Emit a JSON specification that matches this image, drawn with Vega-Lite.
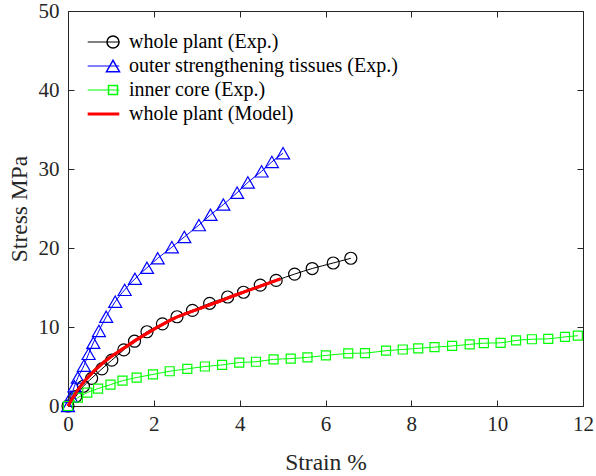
{
  "$schema": "https://vega.github.io/schema/vega-lite/v6.json",
  "width": 515,
  "height": 395,
  "autosize": {"type": "none"},
  "padding": {"left": 68, "top": 11, "right": 13, "bottom": 70},
  "background": "white",
  "config": {
    "view": {"stroke": null},
    "font": "Liberation Serif",
    "axis": {"grid": false, "domainColor": "#262626", "tickColor": "#262626", "labelColor": "#262626", "titleColor": "#262626", "labelFont": "Liberation Serif", "titleFont": "Liberation Serif", "labelFontSize": 21, "titleFontSize": 23.5, "titleFontWeight": "normal", "labelFlush": false, "labelOverlap": false, "tickSize": -6, "domainWidth": 1, "tickWidth": 1},
    "legend": {"labelFont": "Liberation Serif", "labelFontSize": 20, "labelColor": "#000000", "labelLimit": 400}
  },
  "data": {"values": [
    {"series": "whole plant (Exp.)", "strain": 0, "stress": 0},
    {"series": "whole plant (Exp.)", "strain": 0.18, "stress": 1.2},
    {"series": "whole plant (Exp.)", "strain": 0.36, "stress": 2.5},
    {"series": "whole plant (Exp.)", "strain": 0.55, "stress": 3.5},
    {"series": "whole plant (Exp.)", "strain": 0.79, "stress": 4.7},
    {"series": "whole plant (Exp.)", "strain": 1.02, "stress": 5.8},
    {"series": "whole plant (Exp.)", "strain": 1.30, "stress": 7.1},
    {"series": "whole plant (Exp.)", "strain": 1.55, "stress": 8.2},
    {"series": "whole plant (Exp.)", "strain": 1.84, "stress": 9.4},
    {"series": "whole plant (Exp.)", "strain": 2.20, "stress": 10.4},
    {"series": "whole plant (Exp.)", "strain": 2.54, "stress": 11.3},
    {"series": "whole plant (Exp.)", "strain": 2.90, "stress": 12.1},
    {"series": "whole plant (Exp.)", "strain": 3.30, "stress": 13.0},
    {"series": "whole plant (Exp.)", "strain": 3.72, "stress": 13.8},
    {"series": "whole plant (Exp.)", "strain": 4.09, "stress": 14.4},
    {"series": "whole plant (Exp.)", "strain": 4.48, "stress": 15.3},
    {"series": "whole plant (Exp.)", "strain": 4.85, "stress": 15.9},
    {"series": "whole plant (Exp.)", "strain": 5.28, "stress": 16.7},
    {"series": "whole plant (Exp.)", "strain": 5.69, "stress": 17.4},
    {"series": "whole plant (Exp.)", "strain": 6.18, "stress": 18.1},
    {"series": "whole plant (Exp.)", "strain": 6.59, "stress": 18.7},
    {"series": "outer strengthening tissues (Exp.)", "strain": 0, "stress": 0},
    {"series": "outer strengthening tissues (Exp.)", "strain": 0.07, "stress": 1.2},
    {"series": "outer strengthening tissues (Exp.)", "strain": 0.15, "stress": 2.5},
    {"series": "outer strengthening tissues (Exp.)", "strain": 0.23, "stress": 3.6},
    {"series": "outer strengthening tissues (Exp.)", "strain": 0.37, "stress": 5.1},
    {"series": "outer strengthening tissues (Exp.)", "strain": 0.48, "stress": 6.6},
    {"series": "outer strengthening tissues (Exp.)", "strain": 0.59, "stress": 8.0},
    {"series": "outer strengthening tissues (Exp.)", "strain": 0.72, "stress": 9.5},
    {"series": "outer strengthening tissues (Exp.)", "strain": 0.89, "stress": 11.3},
    {"series": "outer strengthening tissues (Exp.)", "strain": 1.10, "stress": 13.2},
    {"series": "outer strengthening tissues (Exp.)", "strain": 1.32, "stress": 14.7},
    {"series": "outer strengthening tissues (Exp.)", "strain": 1.56, "stress": 16.1},
    {"series": "outer strengthening tissues (Exp.)", "strain": 1.84, "stress": 17.5},
    {"series": "outer strengthening tissues (Exp.)", "strain": 2.09, "stress": 18.7},
    {"series": "outer strengthening tissues (Exp.)", "strain": 2.42, "stress": 20.1},
    {"series": "outer strengthening tissues (Exp.)", "strain": 2.71, "stress": 21.4},
    {"series": "outer strengthening tissues (Exp.)", "strain": 3.05, "stress": 22.9},
    {"series": "outer strengthening tissues (Exp.)", "strain": 3.32, "stress": 24.2},
    {"series": "outer strengthening tissues (Exp.)", "strain": 3.62, "stress": 25.5},
    {"series": "outer strengthening tissues (Exp.)", "strain": 3.94, "stress": 27.0},
    {"series": "outer strengthening tissues (Exp.)", "strain": 4.19, "stress": 28.3},
    {"series": "outer strengthening tissues (Exp.)", "strain": 4.51, "stress": 29.7},
    {"series": "outer strengthening tissues (Exp.)", "strain": 4.75, "stress": 30.9},
    {"series": "outer strengthening tissues (Exp.)", "strain": 5.01, "stress": 32.0},
    {"series": "inner core (Exp.)", "strain": 0, "stress": 0},
    {"series": "inner core (Exp.)", "strain": 0.23, "stress": 1.05},
    {"series": "inner core (Exp.)", "strain": 0.45, "stress": 1.7},
    {"series": "inner core (Exp.)", "strain": 0.70, "stress": 2.2},
    {"series": "inner core (Exp.)", "strain": 0.99, "stress": 2.7},
    {"series": "inner core (Exp.)", "strain": 1.27, "stress": 3.2},
    {"series": "inner core (Exp.)", "strain": 1.60, "stress": 3.6},
    {"series": "inner core (Exp.)", "strain": 1.98, "stress": 4.0},
    {"series": "inner core (Exp.)", "strain": 2.37, "stress": 4.4},
    {"series": "inner core (Exp.)", "strain": 2.78, "stress": 4.7},
    {"series": "inner core (Exp.)", "strain": 3.19, "stress": 5.0},
    {"series": "inner core (Exp.)", "strain": 3.59, "stress": 5.2},
    {"series": "inner core (Exp.)", "strain": 3.99, "stress": 5.5},
    {"series": "inner core (Exp.)", "strain": 4.38, "stress": 5.6},
    {"series": "inner core (Exp.)", "strain": 4.79, "stress": 5.9},
    {"series": "inner core (Exp.)", "strain": 5.19, "stress": 6.0},
    {"series": "inner core (Exp.)", "strain": 5.58, "stress": 6.15},
    {"series": "inner core (Exp.)", "strain": 6.01, "stress": 6.4},
    {"series": "inner core (Exp.)", "strain": 6.53, "stress": 6.65},
    {"series": "inner core (Exp.)", "strain": 6.92, "stress": 6.7},
    {"series": "inner core (Exp.)", "strain": 7.41, "stress": 7.0},
    {"series": "inner core (Exp.)", "strain": 7.80, "stress": 7.15},
    {"series": "inner core (Exp.)", "strain": 8.16, "stress": 7.3},
    {"series": "inner core (Exp.)", "strain": 8.54, "stress": 7.45},
    {"series": "inner core (Exp.)", "strain": 8.95, "stress": 7.6},
    {"series": "inner core (Exp.)", "strain": 9.36, "stress": 7.8},
    {"series": "inner core (Exp.)", "strain": 9.69, "stress": 7.95},
    {"series": "inner core (Exp.)", "strain": 10.08, "stress": 8.0},
    {"series": "inner core (Exp.)", "strain": 10.44, "stress": 8.3},
    {"series": "inner core (Exp.)", "strain": 10.81, "stress": 8.45},
    {"series": "inner core (Exp.)", "strain": 11.19, "stress": 8.5},
    {"series": "inner core (Exp.)", "strain": 11.58, "stress": 8.75},
    {"series": "inner core (Exp.)", "strain": 11.88, "stress": 8.9},
    {"series": "whole plant (Model)", "strain": 0, "stress": 0},
    {"series": "whole plant (Model)", "strain": 0.15, "stress": 1.4},
    {"series": "whole plant (Model)", "strain": 0.32, "stress": 2.7},
    {"series": "whole plant (Model)", "strain": 0.64, "stress": 4.6},
    {"series": "whole plant (Model)", "strain": 0.95, "stress": 6.05},
    {"series": "whole plant (Model)", "strain": 1.27, "stress": 7.2},
    {"series": "whole plant (Model)", "strain": 1.6, "stress": 8.4},
    {"series": "whole plant (Model)", "strain": 2.0, "stress": 9.7},
    {"series": "whole plant (Model)", "strain": 2.47, "stress": 11.1},
    {"series": "whole plant (Model)", "strain": 3.0, "stress": 12.2},
    {"series": "whole plant (Model)", "strain": 3.5, "stress": 13.2},
    {"series": "whole plant (Model)", "strain": 4.03, "stress": 14.3},
    {"series": "whole plant (Model)", "strain": 4.5, "stress": 15.2},
    {"series": "whole plant (Model)", "strain": 4.95, "stress": 16.1}
  ]},
  "resolve": {
    "scale": {"color": "independent", "shape": "independent", "strokeWidth": "independent", "size": "independent"},
    "axis": {"x": "independent", "y": "independent"}
  },
  "layer": [
    {
      "mark": {"type": "line", "interpolate": "monotone"},
      "encoding": {
        "x": {"field": "strain", "type": "quantitative", "scale": {"domain": [0, 12], "nice": false},
              "axis": {"orient": "bottom", "values": [0, 2, 4, 6, 8, 10, 12], "title": "Strain %", "labelPadding": 13, "titlePadding": 16, "labelFont": "Liberation Serif", "titleFont": "Liberation Serif", "labelFontSize": 21, "titleFontSize": 23.5}},
        "y": {"field": "stress", "type": "quantitative", "scale": {"domain": [0, 50], "nice": false},
              "axis": {"orient": "left", "values": [0, 10, 20, 30, 40, 50], "title": "Stress MPa", "labelPadding": 15, "titlePadding": 7, "labelFont": "Liberation Serif", "titleFont": "Liberation Serif", "labelFontSize": 21, "titleFontSize": 23.5}},
        "color": {"field": "series", "type": "nominal",
                  "scale": {"domain": ["whole plant (Exp.)", "outer strengthening tissues (Exp.)", "inner core (Exp.)", "whole plant (Model)"], "range": ["#000000", "#0000FF", "#00FF00", "#FF0000"]},
                  "legend": {"orient": "none", "legendX": 18, "legendY": 19, "title": null, "symbolType": "stroke", "symbolSize": 1000, "clipHeight": 24, "rowPadding": 0, "labelOffset": 8, "padding": 0,
                             "encode": {"symbols": {"update": {"strokeWidth": {"signal": "datum.value === 'whole plant (Model)' ? 3.5 : 1.2"}}}}}},
        "strokeWidth": {"field": "series", "type": "nominal",
                        "scale": {"type": "ordinal", "domain": ["whole plant (Exp.)", "outer strengthening tissues (Exp.)", "inner core (Exp.)", "whole plant (Model)"], "range": [1, 1, 1, 3]},
                        "legend": null}
      }
    },
    {
      "transform": [{"filter": "datum.series !== 'whole plant (Model)'"}],
      "mark": {"type": "point", "filled": false, "strokeWidth": 1.2, "opacity": 1},
      "encoding": {
        "x": {"field": "strain", "type": "quantitative", "scale": {"domain": [0, 12], "nice": false},
              "axis": {"orient": "top", "values": [0, 2, 4, 6, 8, 10, 12], "labels": false, "title": null}},
        "y": {"field": "stress", "type": "quantitative", "scale": {"domain": [0, 50], "nice": false},
              "axis": {"orient": "right", "values": [0, 10, 20, 30, 40, 50], "labels": false, "title": null}},
        "color": {"field": "series", "type": "nominal",
                  "scale": {"domain": ["whole plant (Exp.)", "outer strengthening tissues (Exp.)", "inner core (Exp.)"], "range": ["#000000", "#0000FF", "#00FF00"]},
                  "legend": {"orient": "none", "legendX": 35, "legendY": 19, "title": null, "labelExpr": "''", "symbolSize": 81, "symbolStrokeWidth": 1.5, "clipHeight": 24, "rowPadding": 0, "padding": 0,
                             "encode": {"symbols": {"update": {"size": {"signal": "datum.value === 'outer strengthening tissues (Exp.)' ? 110 : datum.value === 'whole plant (Exp.)' ? 70 : 45"}, "fill": {"value": "white"}, "fillOpacity": {"value": 1}}}}}},
        "shape": {"field": "series", "type": "nominal",
                  "scale": {"domain": ["whole plant (Exp.)", "outer strengthening tissues (Exp.)", "inner core (Exp.)"], "range": ["circle", "triangle-up", "square"]},
                  "legend": {"orient": "none", "legendX": 35, "legendY": 19, "title": null, "labelExpr": "''", "symbolSize": 81, "clipHeight": 24, "rowPadding": 0, "padding": 0}},
        "size": {"field": "series", "type": "nominal",
                 "scale": {"type": "ordinal", "domain": ["whole plant (Exp.)", "outer strengthening tissues (Exp.)", "inner core (Exp.)"], "range": [144, 170, 81]},
                 "legend": null}
      }
    },
    {
      "transform": [{"filter": "datum.series === 'whole plant (Model)'"}],
      "mark": {"type": "line", "interpolate": "monotone", "color": "#FF0000", "strokeWidth": 3},
      "encoding": {
        "x": {"field": "strain", "type": "quantitative", "axis": null},
        "y": {"field": "stress", "type": "quantitative", "axis": null}
      }
    }
  ]
}
